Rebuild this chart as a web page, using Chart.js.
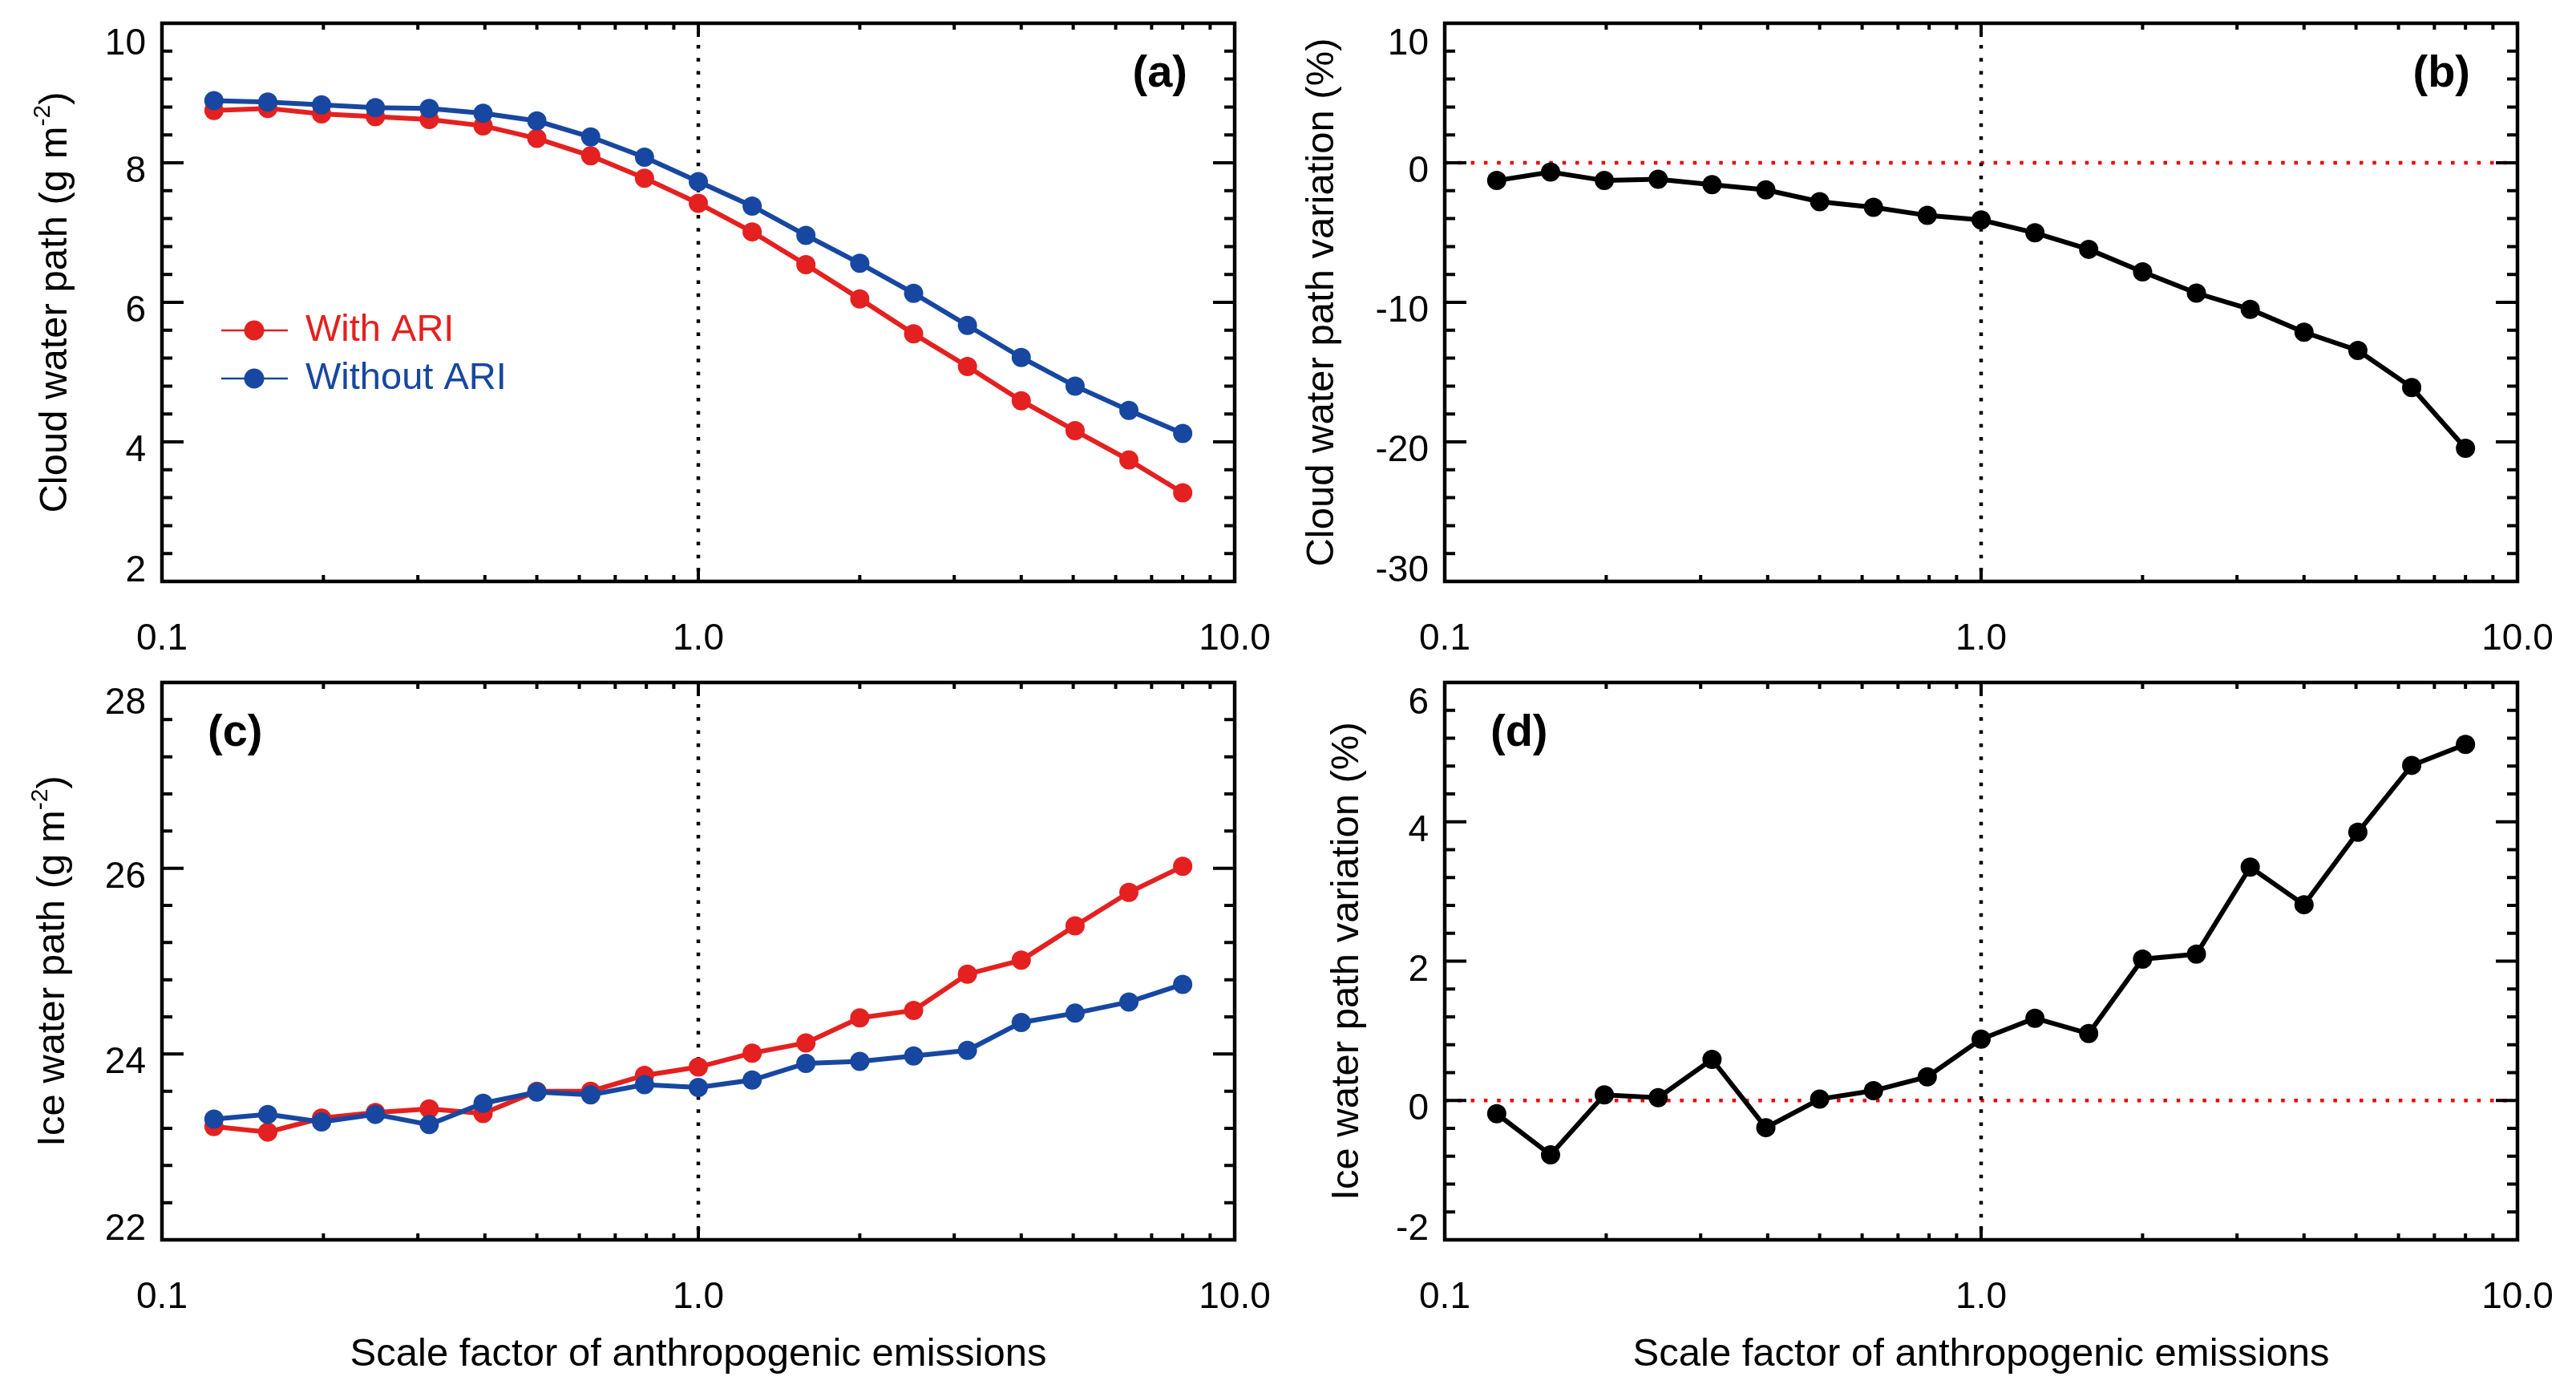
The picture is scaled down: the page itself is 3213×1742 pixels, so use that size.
<!DOCTYPE html>
<html>
<head>
<meta charset="utf-8">
<title>Cloud and ice water path vs. emission scale factor</title>
<script src="https://cdn.jsdelivr.net/npm/chart.js@4.4.1/dist/chart.umd.min.js"></script>
<style>
  html, body { margin: 0; padding: 0; background: #fff; }
  body { width: 3213px; height: 1742px; position: relative; overflow: hidden; }
  canvas { position: absolute; }
</style>
</head>
<body>
<canvas id="panelA" width="1600" height="830" style="left:0;top:0"></canvas>
<canvas id="panelB" width="1613" height="830" style="left:1600px;top:0"></canvas>
<canvas id="panelC" width="1600" height="912" style="left:0;top:830px"></canvas>
<canvas id="panelD" width="1613" height="912" style="left:1600px;top:830px"></canvas>
<script>
// ===== DATA =====
const scaleFactors = [0.125, 0.1575, 0.1984, 0.25, 0.315, 0.3969, 0.5, 0.63, 0.7937, 1.0,
                      1.26, 1.587, 2.0, 2.52, 3.175, 4.0, 5.04, 6.35, 8.0];

const cwpWithAri    = [8.75, 8.78, 8.70, 8.66, 8.62, 8.53, 8.35, 8.10, 7.78, 7.42,
                       7.01, 6.54, 6.05, 5.55, 5.08, 4.59, 4.16, 3.74, 3.27];
const cwpWithoutAri = [8.89, 8.87, 8.83, 8.79, 8.78, 8.71, 8.60, 8.37, 8.08, 7.73,
                       7.38, 6.96, 6.56, 6.13, 5.67, 5.21, 4.80, 4.45, 4.12];
const cwpChange     = [-1.27, -0.66, -1.27, -1.18, -1.57, -1.94, -2.79, -3.19, -3.77, -4.10,
                       -5.02, -6.20, -7.82, -9.34, -10.50, -12.14, -13.45, -16.10, -20.46];

const iwpWithAri    = [23.22, 23.16, 23.31, 23.37, 23.41, 23.36, 23.60, 23.60, 23.77, 23.86,
                       24.01, 24.12, 24.39, 24.47, 24.86, 25.01, 25.38, 25.74, 26.02];
const iwpWithoutAri = [23.30, 23.35, 23.27, 23.35, 23.24, 23.47, 23.59, 23.56, 23.67, 23.64,
                       23.72, 23.90, 23.92, 23.98, 24.04, 24.34, 24.44, 24.56, 24.75];
const iwpChange     = [-0.19, -0.78, 0.08, 0.04, 0.59, -0.39, 0.02, 0.14, 0.34, 0.88,
                       1.18, 0.96, 2.03, 2.10, 3.35, 2.81, 3.85, 4.81, 5.11];

// axis ticks
const xMajorTicks  = [0.1, 1, 10];
const xTickLabels  = ['0.1', '1.0', '10.0'];
const xMinorTicks  = [0.2, 0.3, 0.4, 0.5, 0.6, 0.7, 0.8, 0.9, 2, 3, 4, 5, 6, 7, 8, 9];
const cwpTicks     = [2, 4, 6, 8, 10];
const cwpChgTicks  = [-30, -20, -10, 0, 10];
const iwpTicks     = [22, 24, 26, 28];
const iwpChgTicks  = [-2, 0, 2, 4, 6];

const seriesNames  = ['With ARI', 'Without ARI'];
const xTitle       = 'Scale factor of anthropogenic emissions';
const referenceX   = 1.0;

// ===== STYLE =====
const RED = '#e42020';
const BLUE = '#1747a0';
const BLACK = '#000000';
const FONT = "'Liberation Sans', Arial, Helvetica, sans-serif";

// draws the title in rotated frame, pieces may be superscripts
function drawRotatedTitle(ctx, parts, baseX, centerY, size) {
    ctx.save();
    ctx.translate(baseX, centerY);
    ctx.rotate(-Math.PI / 2);
    ctx.fillStyle = BLACK;
    ctx.textBaseline = 'alphabetic';
    ctx.textAlign = 'left';
    let total = 0;
    parts.forEach(p => {
        ctx.font = `${p.sup ? Math.round(size * 0.62) : size}px ${FONT}`;
        p.w = ctx.measureText(p.text).width;
        total += p.w;
    });
    let cx = -total / 2;
    parts.forEach(p => {
        ctx.font = `${p.sup ? Math.round(size * 0.62) : size}px ${FONT}`;
        ctx.fillText(p.text, cx, p.sup ? -size * 0.42 : 0);
        cx += p.w;
    });
    ctx.restore();
}

// IDL-style box: frame, inward ticks, labels, titles, reference lines
const framePlugin = {
    id: 'frame',
    beforeDatasetsDraw(chart, args, o) {
        const { ctx, chartArea: a, scales: { x, y } } = chart;
        ctx.save();
        ctx.lineWidth = 4.5;
        ctx.lineCap = 'butt';
        ctx.setLineDash([4.5, 11.8]);

        if (o.zeroLine) {
            const py = y.getPixelForValue(0);
            ctx.strokeStyle = '#f00000';
            ctx.beginPath();
            ctx.moveTo(a.left, py);
            ctx.lineTo(a.right, py);
            ctx.stroke();
        }

        const px = x.getPixelForValue(referenceX);
        ctx.strokeStyle = BLACK;
        ctx.beginPath();
        ctx.moveTo(px, a.top + 27);
        ctx.lineTo(px, a.bottom);
        ctx.stroke();
        ctx.restore();
    },
    afterDraw(chart, args, o) {
        const { ctx, chartArea: a, scales: { x, y } } = chart;
        ctx.save();
        ctx.strokeStyle = BLACK;
        ctx.fillStyle = BLACK;

        // ticks
        ctx.lineWidth = 4;
        ctx.beginPath();
        xMajorTicks.concat(xMinorTicks).forEach(v => {
            const len = xMajorTicks.includes(v) ? 17 : 8;
            const px = x.getPixelForValue(v);
            ctx.moveTo(px, a.bottom); ctx.lineTo(px, a.bottom - len);
            ctx.moveTo(px, a.top);    ctx.lineTo(px, a.top + len);
        });
        const nMinor = Math.round((o.yMax - o.yMin) / o.yMinorStep);
        const perMajor = Math.round(o.yMajorStep / o.yMinorStep);
        for (let i = 1; i < nMinor; i++) {
            const v = o.yMin + i * o.yMinorStep;
            const len = i % perMajor === 0 ? 27 : 13;
            const py = y.getPixelForValue(v);
            ctx.moveTo(a.left, py);  ctx.lineTo(a.left + len, py);
            ctx.moveTo(a.right, py); ctx.lineTo(a.right - len, py);
        }
        ctx.stroke();

        // frame
        ctx.lineWidth = 4.5;
        ctx.strokeRect(a.left, a.top, a.right - a.left, a.bottom - a.top);

        // tick labels
        ctx.font = `46px ${FONT}`;
        ctx.textBaseline = 'alphabetic';
        ctx.textAlign = 'center';
        xMajorTicks.forEach((v, i) => {
            ctx.fillText(xTickLabels[i], x.getPixelForValue(v), a.bottom + 85);
        });
        ctx.textAlign = 'right';
        o.yTicks.forEach(v => {
            const py = y.getPixelForValue(v);
            const base = Math.min(Math.max(py + 24, a.top + 39), a.bottom);
            ctx.fillText(String(v), a.left - 20, base);
        });

        // axis titles
        drawRotatedTitle(ctx, o.yTitle, a.left + o.yTitleOffset, (a.top + a.bottom) / 2, 49);
        if (o.showXTitle) {
            ctx.font = `49px ${FONT}`;
            ctx.textAlign = 'center';
            ctx.fillText(xTitle, (a.left + a.right) / 2, a.bottom + 157);
        }

        // panel tag
        ctx.font = `bold 56px ${FONT}`;
        if (o.tagRight) {
            ctx.textAlign = 'right';
            ctx.fillText(o.tag, a.right - 59, a.top + 79);
        } else {
            ctx.textAlign = 'left';
            ctx.fillText(o.tag, a.left + 57, a.top + 79);
        }

        // legend
        if (o.legend) {
            const items = [{ name: seriesNames[0], color: RED }, { name: seriesNames[1], color: BLUE }];
            items.forEach((it, i) => {
                const ly = a.top + 383 + i * 60;
                ctx.strokeStyle = it.color;
                ctx.fillStyle = it.color;
                ctx.lineWidth = 2.5;
                ctx.beginPath();
                ctx.moveTo(a.left + 74, ly);
                ctx.lineTo(a.left + 157, ly);
                ctx.stroke();
                ctx.beginPath();
                ctx.arc(a.left + 115, ly, 12.5, 0, Math.PI * 2);
                ctx.fill();
                ctx.font = `47px ${FONT}`;
                ctx.textAlign = 'left';
                ctx.fillText(it.name, a.left + 179, ly + 13);
            });
        }
        ctx.restore();
    }
};

function series(values, color, order) {
    return {
        data: scaleFactors.map((sf, i) => ({ x: sf, y: values[i] })),
        borderColor: color,
        backgroundColor: color,
        pointBackgroundColor: color,
        pointBorderWidth: 0,
        pointRadius: 12,
        borderWidth: 6,
        tension: 0,
        order: order
    };
}

function makePanel(canvasId, datasets, padding, opts) {
    return new Chart(document.getElementById(canvasId), {
        type: 'line',
        data: { datasets: datasets },
        options: {
            responsive: false,
            animation: false,
            devicePixelRatio: 1,
            layout: { padding: padding },
            plugins: {
                legend: { display: false },
                tooltip: { enabled: false },
                frame: opts
            },
            scales: {
                x: { type: 'logarithmic', min: 0.1, max: 10, display: false },
                y: { type: 'linear', min: opts.yMin, max: opts.yMax, display: false }
            }
        },
        plugins: [framePlugin]
    });
}

const topPad = { left: 202, top: 29, bottom: 105 };
const botPad = { left: 202, top: 21, bottom: 196 };

makePanel('panelA',
    [series(cwpWithAri, RED, 2), series(cwpWithoutAri, BLUE, 1)],
    Object.assign({ right: 60 }, topPad),
    { yMin: 2, yMax: 10, yMajorStep: 2, yMinorStep: 0.4, yTicks: cwpTicks,
      yTitle: [{ text: 'Cloud water path (g m' }, { text: '-2', sup: true }, { text: ')' }],
      yTitleOffset: -119, tag: '(a)', tagRight: true, legend: true });

makePanel('panelB',
    [series(cwpChange, BLACK, 1)],
    Object.assign({ right: 73 }, topPad),
    { yMin: -30, yMax: 10, yMajorStep: 10, yMinorStep: 2, yTicks: cwpChgTicks,
      yTitle: [{ text: 'Cloud water path variation (%)' }],
      yTitleOffset: -139, tag: '(b)', tagRight: true, zeroLine: true });

makePanel('panelC',
    [series(iwpWithAri, RED, 2), series(iwpWithoutAri, BLUE, 1)],
    Object.assign({ right: 60 }, botPad),
    { yMin: 22, yMax: 28, yMajorStep: 2, yMinorStep: 0.4, yTicks: iwpTicks,
      yTitle: [{ text: 'Ice water path (g m' }, { text: '-2', sup: true }, { text: ')' }],
      yTitleOffset: -122, tag: '(c)', showXTitle: true });

makePanel('panelD',
    [series(iwpChange, BLACK, 1)],
    Object.assign({ right: 73 }, botPad),
    { yMin: -2, yMax: 6, yMajorStep: 2, yMinorStep: 0.4, yTicks: iwpChgTicks,
      yTitle: [{ text: 'Ice water path variation (%)' }],
      yTitleOffset: -108, tag: '(d)', showXTitle: true, zeroLine: true });
</script>
</body>
</html>
